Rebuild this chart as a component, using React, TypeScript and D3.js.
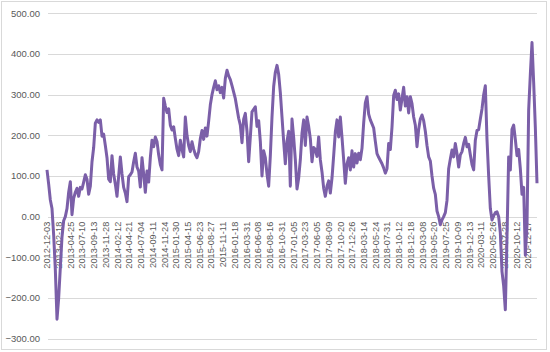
import React, { useRef, useEffect } from 'react';
import * as d3 from 'd3';

// category labels on the x axis (every ~47 trading days)
const dateLabels = [
  '2012-12-03', '2013-02-18', '2013-04-25', '2013-07-10', '2013-09-13', '2013-11-28',
  '2014-02-12', '2014-04-21', '2014-07-04', '2014-09-11', '2014-11-24', '2015-01-30',
  '2015-04-15', '2015-06-23', '2015-08-27', '2015-11-11', '2016-01-18', '2016-03-31',
  '2016-06-08', '2016-08-16', '2016-10-31', '2017-01-05', '2017-03-23', '2017-06-05',
  '2017-08-09', '2017-10-20', '2017-12-26', '2018-03-14', '2018-05-24', '2018-07-31',
  '2018-10-12', '2018-12-18', '2019-03-08', '2019-05-20', '2019-07-25', '2019-10-09',
  '2019-12-13', '2020-03-11', '2020-05-26', '2020-07-28', '2020-10-12', '2020-12-17',
];

const yTicks = [-300, -200, -100, 0, 100, 200, 300, 400, 500];

// series values, evenly spaced in time
const values = [
  115, 80, 41, 20, -45, -130, -252, -200, -125, -50,
  -10, 0, 20, 60, 86, 5, 45, 60, 70, 50,
  72, 68, 85, 103, 92, 55, 75, 135, 170, 230,
  238, 232, 238, 198, 203, 175, 145, 92, 86, 150,
  105, 80, 50, 100, 147, 105, 72, 58, 37, 98,
  103, 110, 135, 156, 122, 112, 73, 145, 105, 60,
  112, 85, 145, 188, 172, 196, 185, 152, 128, 115,
  291, 272, 256, 265, 225, 213, 221, 192, 166, 150,
  188, 165, 147, 245, 200, 175, 160, 184, 166, 153,
  145, 160, 192, 212, 190, 218, 198, 235, 275, 300,
  318, 334, 312, 322, 305, 318, 292, 340, 360, 346,
  337, 322, 306, 290, 266, 242, 225, 182, 240, 254,
  210, 135, 196, 258, 264, 270, 222, 236, 185, 100,
  162, 145, 105, 75, 150, 245, 320, 355, 372, 350,
  305, 245, 185, 130, 185, 210, 75, 240, 195, 140,
  68, 95, 140, 205, 238, 175, 245, 222, 192, 135,
  170, 165, 148, 196, 140, 110, 70, 50, 75, 88,
  58, 95, 150, 208, 238, 196, 245, 195, 140, 82,
  130, 145, 115, 162, 122, 155, 132, 156, 140, 168,
  230, 280, 295, 252, 238, 228, 218, 185, 155, 146,
  138, 130, 120, 107, 118, 180, 165, 220, 298, 311,
  288, 302, 262, 290, 318, 272, 295, 255, 295, 278,
  245, 225, 172, 215, 240, 250, 236, 210, 175, 147,
  137, 100, 70, 55, 14, 0, -20, -8, 0, 10,
  40, 118, 142, 164, 147, 180, 155, 122, 152, 160,
  180, 195, 172, 178, 152, 128, 115, 188, 212, 214,
  240, 265, 300, 322, 190, 100, 20, -8, 2, 10,
  12, 0, -40, -135, -170, -229, -50, 147, 115, 215,
  225, 190, 150, 165, 118, 55, 72, -95, -20, 262,
  350, 428, 330, 220, 82,
];

const width = 550;
const height = 352;

const LineChart = () => {
  const svgRef = useRef<SVGSVGElement>(null);

  useEffect(() => {
    const svg = d3.select(svgRef.current);
    svg.selectAll('*').remove();

    const left = 48;
    const right = 537;

    const y = d3.scaleLinear().domain([-300, 500]).range([338.7, 13.3]);
    const x = d3.scaleLinear().domain([0, values.length - 1]).range([47, 537]);
    const xLab = d3.scalePoint<string>().domain(dateLabels).range([47, 528]);

    // chart area border
    svg.append('rect')
      .attr('x', 1.5).attr('y', 1.5)
      .attr('width', 545).attr('height', 348)
      .attr('fill', 'white')
      .attr('stroke', '#d9d9d9');

    // gridlines
    svg.append('g')
      .selectAll('line')
      .data(yTicks)
      .enter()
      .append('line')
      .attr('x1', left).attr('x2', right)
      .attr('y1', d => Math.round(y(d)) + 0.5)
      .attr('y2', d => Math.round(y(d)) + 0.5)
      .attr('stroke', '#d9d9d9')
      .attr('stroke-width', 1);

    // y labels
    svg.append('g')
      .selectAll('text')
      .data(yTicks)
      .enter()
      .append('text')
      .attr('x', 40)
      .attr('y', d => y(d))
      .attr('dy', '0.35em')
      .attr('text-anchor', 'end')
      .style('font-family', '"Liberation Sans", Arial, sans-serif')
      .style('font-size', '9.5px')
      .style('fill', '#595959')
      .text(d => d3.format('.2f')(d));

    // x labels, rotated, hanging below the zero line
    svg.append('g')
      .selectAll('text')
      .data(dateLabels)
      .enter()
      .append('text')
      .attr('transform', d => `translate(${xLab(d)},${y(0) + 5}) rotate(-90)`)
      .attr('dy', '0.35em')
      .attr('text-anchor', 'end')
      .style('font-family', '"Liberation Sans", Arial, sans-serif')
      .style('font-size', '9.2px')
      .style('fill', '#595959')
      .text(d => d);

    const line = d3.line<number>()
      .x((d, i) => x(i))
      .y(d => y(d));

    svg.append('path')
      .datum(values)
      .attr('d', line)
      .attr('fill', 'none')
      .attr('stroke', '#7b5fa8')
      .attr('stroke-width', 3)
      .attr('stroke-linejoin', 'round');
  }, []);

  return <svg ref={svgRef} width={width} height={height} />;
};

export default function App() {
  return (
    <div style={{ position: 'absolute', left: 0, top: 0 }}>
      <LineChart />
    </div>
  );
}
